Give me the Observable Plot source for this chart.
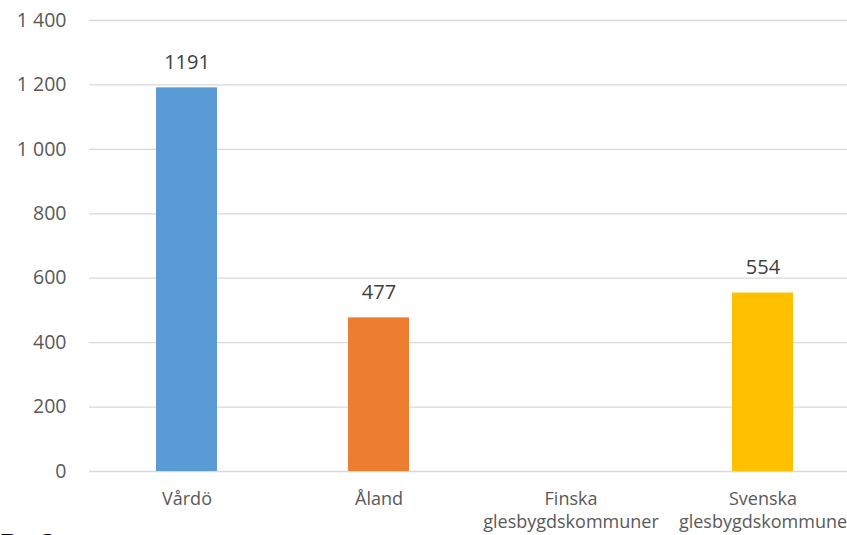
<!DOCTYPE html>
<html><head><meta charset="utf-8">
<script src="https://cdn.jsdelivr.net/npm/d3@7"></script>
<script src="https://cdn.jsdelivr.net/npm/@observablehq/plot@0.6"></script>
<style>
body{margin:0;background:#fff;overflow:hidden;}
#wrap{position:relative;width:847px;height:535px;overflow:hidden;}
#frag{position:absolute;left:-1px;top:527px;font-family:"Liberation Sans",sans-serif;font-size:30px;line-height:34px;color:#000;}
</style></head>
<body><div id="wrap"><div id="chart"></div><div id="frag">B. O</div></div>
<script>
const categories = ["Vårdö","Åland","Finska\nglesbygdskommuner","Svenska\nglesbygdskommune"];
const values = [1191, 477, null, 554];
const colors = ["#5B9BD5","#ED7D31","#A5A5A5","#FFC000"];
const yTicks = [0,200,400,600,800,1000,1200,1400];

const data = categories.map((c,i)=>({cat:c, v:values[i], color:colors[i]})).filter(d=>d.v!=null);
const fmt = d3.formatLocale({decimal:",",thousands:"\u00a0",grouping:[3],currency:["",""]}).format(",");
const font = "Open Sans, sans-serif";

const chart = Plot.plot({
  width:847, height:535,
  marginLeft:89, marginRight:0, marginTop:20, marginBottom:64,
  style:{fontFamily:font, background:"#fff"},
  x:{domain:categories, range:[89,860], paddingInner:0.684, paddingOuter:0.342, label:null},
  y:{domain:[0,1400], range:[471,20], label:null},
  marks:[
    Plot.ruleY(yTicks,{stroke:"#d9d9d9",strokeWidth:1.3}),
    Plot.barY(data,{x:"cat",y:"v",fill:"color"}),
    Plot.text(data,{x:"cat",y:"v",text:d=>String(d.v),dy:-25,fontSize:20,fill:"#404040"}),
    Plot.axisY({ticks:yTicks,tickFormat:fmt,tickSize:0,tickPadding:23,fontSize:19.5,color:"#595959",label:null}),
    Plot.axisX({tickSize:0,tickPadding:16,fontSize:18,color:"#595959",lineHeight:1.33,label:null})
  ]
});
document.getElementById("chart").appendChild(chart);
</script></body></html>
